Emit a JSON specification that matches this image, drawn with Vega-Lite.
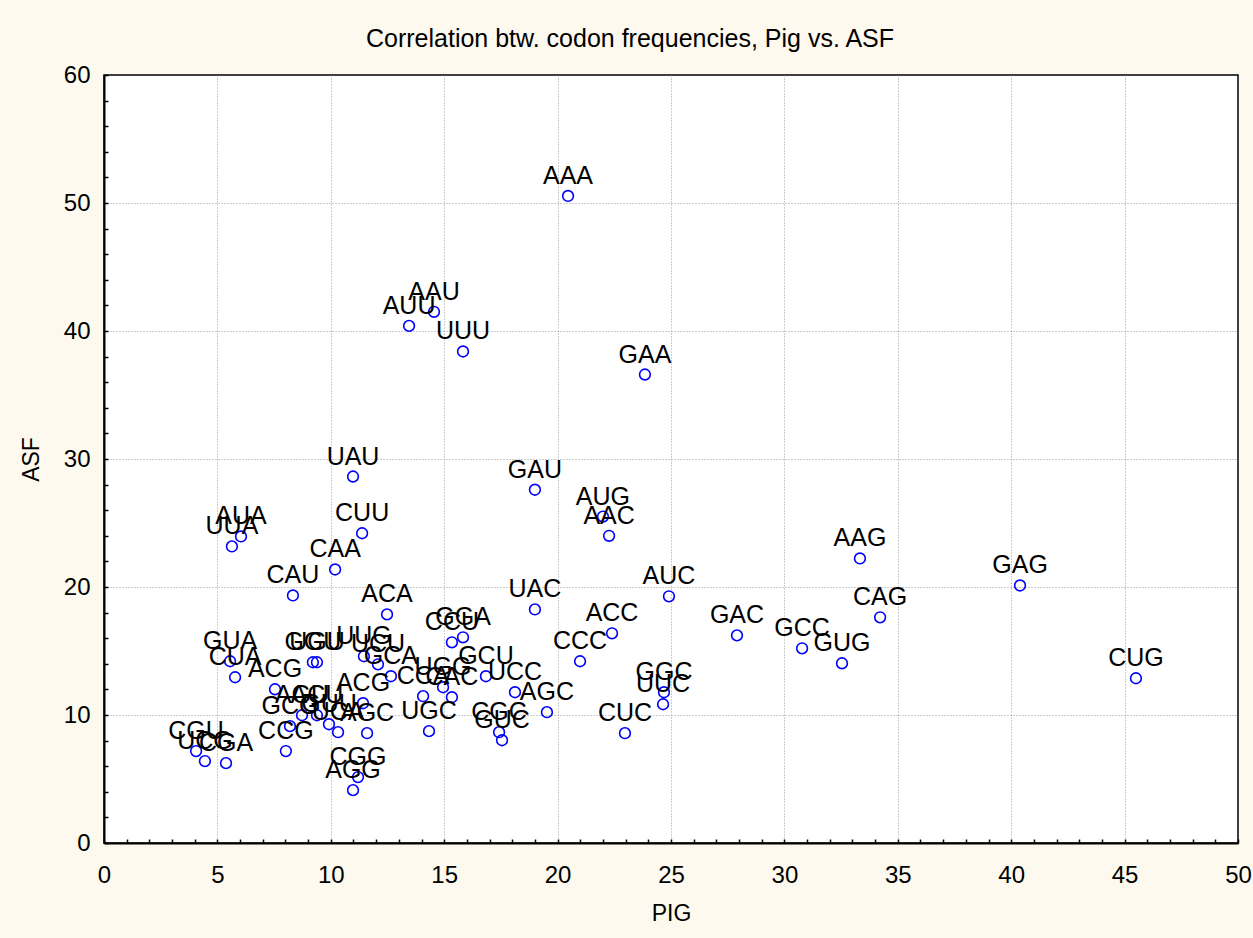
{
  "$schema": "https://vega.github.io/schema/vega-lite/v6.json",
  "width": 1134,
  "height": 768,
  "autosize": {"type": "none"},
  "padding": {"left": 104, "top": 75, "right": 15, "bottom": 95},
  "background": "#fdf9ee",
  "config": {
    "view": {"fill": "white", "stroke": "black", "strokeWidth": 1.5},
    "font": "Liberation Sans"
  },
  "title": {
    "text": "Correlation btw. codon frequencies, Pig vs. ASF",
    "fontSize": 25,
    "fontWeight": "normal",
    "color": "black",
    "anchor": "middle",
    "dx": -41,
    "offset": 11
  },
  "data": {
    "values": [
      {"codon": "AAA", "pig": 20.46, "asf": 50.55},
      {"codon": "AAU", "pig": 14.55, "asf": 41.5},
      {"codon": "AUU", "pig": 13.45, "asf": 40.4},
      {"codon": "UUU", "pig": 15.83, "asf": 38.4},
      {"codon": "GAA", "pig": 23.85, "asf": 36.6},
      {"codon": "UAU", "pig": 10.98, "asf": 28.63},
      {"codon": "GAU", "pig": 19.0, "asf": 27.6},
      {"codon": "AUG", "pig": 22.0, "asf": 25.5},
      {"codon": "AAC", "pig": 22.27, "asf": 24.0},
      {"codon": "AUA", "pig": 6.04, "asf": 23.95},
      {"codon": "UUA", "pig": 5.64, "asf": 23.17},
      {"codon": "CUU", "pig": 11.38, "asf": 24.2},
      {"codon": "CAA", "pig": 10.19, "asf": 21.37},
      {"codon": "AAG", "pig": 33.33, "asf": 22.23},
      {"codon": "GAG", "pig": 40.39, "asf": 20.12},
      {"codon": "CAU", "pig": 8.33, "asf": 19.34},
      {"codon": "AUC", "pig": 24.91, "asf": 19.27},
      {"codon": "CAG", "pig": 34.22, "asf": 17.63},
      {"codon": "ACA", "pig": 12.48, "asf": 17.86},
      {"codon": "UAC", "pig": 19.0, "asf": 18.25},
      {"codon": "CCU", "pig": 15.34, "asf": 15.68},
      {"codon": "GGA", "pig": 15.83, "asf": 16.07},
      {"codon": "GAC", "pig": 27.91, "asf": 16.22},
      {"codon": "ACC", "pig": 22.4, "asf": 16.38},
      {"codon": "GCC", "pig": 30.78, "asf": 15.21},
      {"codon": "GUG", "pig": 32.54, "asf": 14.04},
      {"codon": "CCC", "pig": 20.99, "asf": 14.2},
      {"codon": "GUA", "pig": 5.56, "asf": 14.2},
      {"codon": "CUA", "pig": 5.78, "asf": 12.95},
      {"codon": "GGU", "pig": 9.21, "asf": 14.12},
      {"codon": "UGU", "pig": 9.39, "asf": 14.12},
      {"codon": "UUG", "pig": 11.46, "asf": 14.59},
      {"codon": "UCU", "pig": 12.08, "asf": 13.96},
      {"codon": "GCA", "pig": 12.65, "asf": 13.03},
      {"codon": "GCU", "pig": 16.84, "asf": 13.03},
      {"codon": "UCC", "pig": 18.12, "asf": 11.78},
      {"codon": "AGC", "pig": 19.53, "asf": 10.22},
      {"codon": "GGC", "pig": 24.69, "asf": 11.78},
      {"codon": "UUC", "pig": 24.65, "asf": 10.84},
      {"codon": "CUC", "pig": 22.97, "asf": 8.58},
      {"codon": "CUG", "pig": 45.5, "asf": 12.87},
      {"codon": "CCA", "pig": 14.07, "asf": 11.47},
      {"codon": "UGG", "pig": 14.95, "asf": 12.17},
      {"codon": "CAC", "pig": 15.34, "asf": 11.39},
      {"codon": "ACG", "pig": 11.42, "asf": 10.92},
      {"codon": "UGC", "pig": 14.33, "asf": 8.74},
      {"codon": "CGC", "pig": 17.42, "asf": 8.66},
      {"codon": "GUC", "pig": 17.55, "asf": 8.03},
      {"codon": "AGC", "pig": 11.6, "asf": 8.58},
      {"codon": "CGG", "pig": 11.2, "asf": 5.15},
      {"codon": "AGG", "pig": 10.98, "asf": 4.13},
      {"codon": "CCG", "pig": 8.02, "asf": 7.18},
      {"codon": "ACG", "pig": 7.54, "asf": 12.01},
      {"codon": "AGU", "pig": 8.73, "asf": 9.98},
      {"codon": "ACU", "pig": 9.39, "asf": 9.98},
      {"codon": "GCG", "pig": 8.2, "asf": 9.13},
      {"codon": "GUU", "pig": 9.92, "asf": 9.28},
      {"codon": "UCA", "pig": 10.32, "asf": 8.66},
      {"codon": "CGU", "pig": 4.06, "asf": 7.18},
      {"codon": "UCG", "pig": 4.45, "asf": 6.4},
      {"codon": "CGA", "pig": 5.38, "asf": 6.24}
    ]
  },
  "encoding": {
    "x": {
      "field": "pig",
      "type": "quantitative",
      "scale": {"domain": [0, 50], "nice": false, "zero": false},
      "axis": {
        "title": "PIG",
        "values": [0,1,2,3,4,5,6,7,8,9,10,11,12,13,14,15,16,17,18,19,20,21,22,23,24,25,26,27,28,29,30,31,32,33,34,35,36,37,38,39,40,41,42,43,44,45,46,47,48,49,50],
        "labelExpr": "datum.value % 5 === 0 ? datum.label : ''",
        "labelOverlap": false,
        "labelFlush": false,
        "labelBound": false,
        "labelFontSize": 24,
        "labelColor": "black",
        "labelPadding": 24,
        "tickSize": -4,
        "tickColor": "black",
        "tickWidth": 1.5,
        "domainColor": "black",
        "domainWidth": 2,
        "grid": true,
        "gridColor": "#9a9a9a",
        "gridDash": [1, 2],
        "gridWidth": 1,
        "gridOpacity": {"condition": {"test": "datum.value % 5 === 0 && datum.value > 0 && datum.value < 50", "value": 1}, "value": 0},
        "titleFontSize": 23,
        "titleFontWeight": "normal",
        "titleColor": "black",
        "titlePadding": 15
      }
    },
    "y": {
      "field": "asf",
      "type": "quantitative",
      "scale": {"domain": [0, 60], "nice": false, "zero": false},
      "axis": {
        "title": "ASF",
        "values": [0,2,4,6,8,10,12,14,16,18,20,22,24,26,28,30,32,34,36,38,40,42,44,46,48,50,52,54,56,58,60],
        "labelExpr": "datum.value % 10 === 0 ? datum.label : ''",
        "labelOverlap": false,
        "labelFlush": false,
        "labelBound": false,
        "labelFontSize": 24,
        "labelColor": "black",
        "labelPadding": 18,
        "tickSize": -4,
        "tickColor": "black",
        "tickWidth": 1.5,
        "domainColor": "black",
        "domainWidth": 2,
        "grid": true,
        "gridColor": "#9a9a9a",
        "gridDash": [1, 2],
        "gridWidth": 1,
        "gridOpacity": {"condition": {"test": "datum.value % 10 === 0 && datum.value > 0 && datum.value < 60", "value": 1}, "value": 0},
        "titleFontSize": 23,
        "titleFontWeight": "normal",
        "titleColor": "black",
        "titlePadding": 20
      }
    }
  },
  "layer": [
    {
      "mark": {"type": "point", "shape": "circle", "filled": false, "color": "#0000ff", "size": 115, "strokeWidth": 1.6, "opacity": 1}
    },
    {
      "mark": {"type": "text", "dy": -12, "baseline": "alphabetic", "align": "center", "fontSize": 25, "color": "black"},
      "encoding": {"text": {"field": "codon", "type": "nominal"}}
    }
  ]
}
